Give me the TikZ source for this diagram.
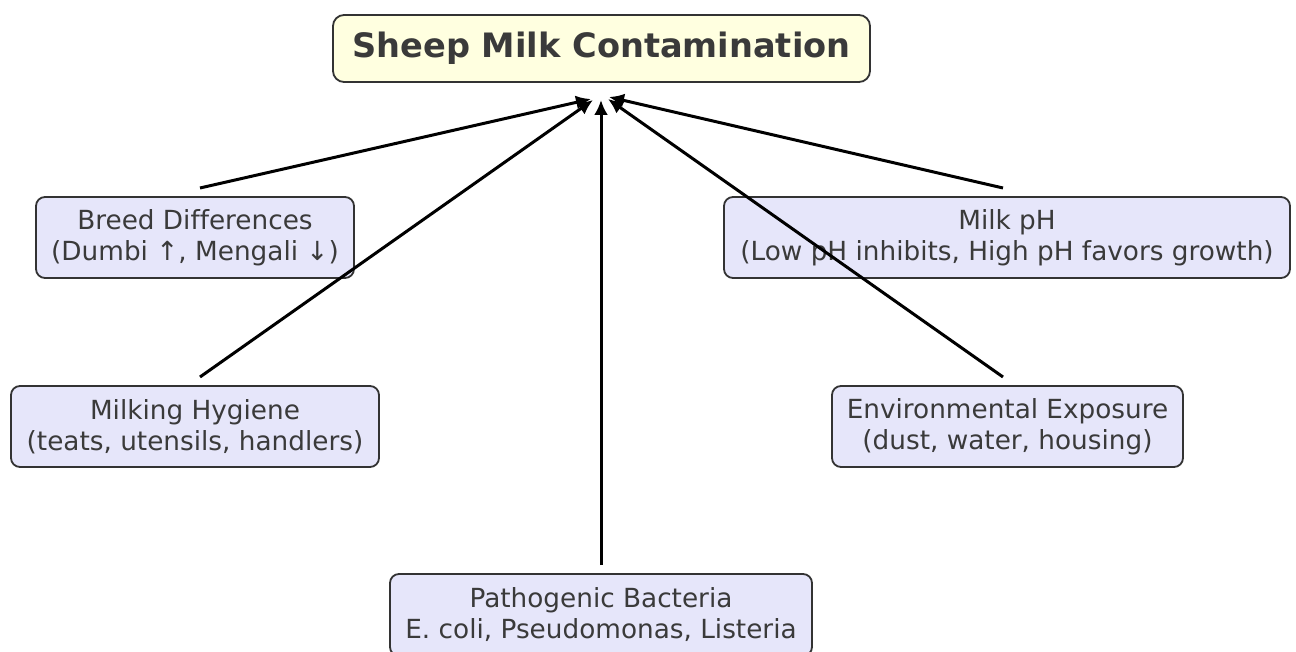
\documentclass[tikz,border=0pt]{standalone}
\usepackage{fontspec}
\setmainfont[Ligatures=NoCommon]{DejaVu Sans}
\usetikzlibrary{arrows.meta}
\definecolor{txt}{HTML}{3A3A3A}
\definecolor{edge}{HTML}{333333}
\definecolor{boxfill}{HTML}{E6E6FA}
\definecolor{titlefill}{HTML}{FFFFE0}
\begin{document}
\begin{tikzpicture}[x=1pt,y=-1pt,
  factor/.style={draw=edge, line width=1.8pt, fill=boxfill, rounded corners=9pt,
    inner sep=0pt, align=center, text=txt, font=\fontsize{26.3}{31}\selectfont},
  titlebox/.style={draw=edge, line width=1.8pt, fill=titlefill, rounded corners=11pt,
    inner sep=0pt, align=center, text=txt, font=\fontsize{33.6}{38}\selectfont\bfseries},
  link/.style={draw=black, line width=3pt, -{Latex[length=15pt,width=14pt]}}]
\useasboundingbox (0,0) rectangle (1296,652);
\node[titlebox, minimum width=537pt, minimum height=67pt] (title) at (601.5,48.5) {Sheep Milk Contamination};
\node[factor, minimum width=318pt, minimum height=81pt] (breed) at (195,237.5) {Breed Differences\\(Dumbi ↑, Mengali ↓)};
\node[factor, minimum width=566pt, minimum height=81pt] (ph) at (1007,237.5) {Milk pH\\(Low pH inhibits, High pH favors growth)};
\node[factor, minimum width=368pt, minimum height=81pt] (hyg) at (195,426.5) {Milking Hygiene\\(teats, utensils, handlers)};
\node[factor, minimum width=351pt, minimum height=81pt] (env) at (1007.5,426.5) {Environmental Exposure\\(dust, water, housing)};
\node[factor, minimum width=422pt, minimum height=82pt] (path) at (601,615) {Pathogenic Bacteria\\E. coli, Pseudomonas, Listeria};
\coordinate (sbreed) at (200,188);
\coordinate (shyg) at (200,377);
\coordinate (spath) at (601,565);
\coordinate (sph) at (1003,188);
\coordinate (senv) at (1003,377);
\coordinate (ebreed) at (591,99);
\coordinate (ehyg) at (593,100);
\coordinate (epath) at (601,100);
\coordinate (eph) at (609,97);
\coordinate (eenv) at (608,99);
\draw[link] (sbreed) -- (ebreed);
\draw[link] (shyg) -- (ehyg);
\draw[link] (spath) -- (epath);
\draw[link] (sph) -- (eph);
\draw[link] (senv) -- (eenv);
\end{tikzpicture}
\end{document}
